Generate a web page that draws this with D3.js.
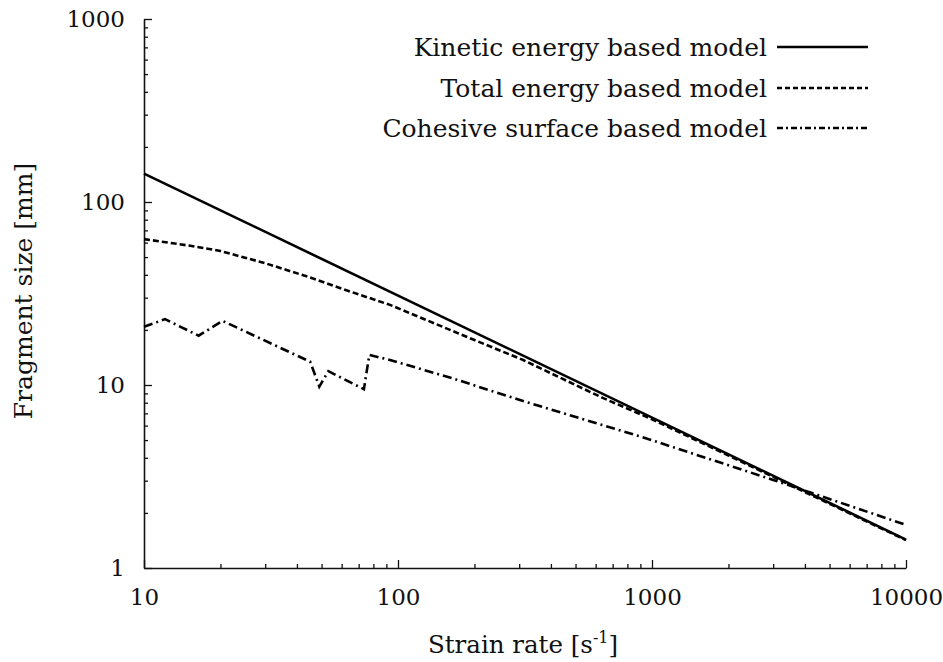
<!DOCTYPE html>
<html>
<head>
<meta charset="utf-8">
<script src="https://cdn.jsdelivr.net/npm/d3@7"></script>
<style>
  html, body { margin: 0; padding: 0; background: #fff; }
  svg text { font-family: "DejaVu Serif", "Liberation Serif", serif; fill: #111; }
</style>
</head>
<body>
<svg id="chart" width="943" height="662"></svg>
<script>
// ---- data ----
const kineticRate = [10, 10000];
const kineticSize = [143, 1.43];

const totalRate = [10, 15, 20, 30, 44, 60, 93, 200, 311, 500, 640, 1000, 2000, 4000, 10000];
const totalSize = [62.7, 57.8, 54, 46.3, 39.1, 33.6, 27.4, 17.6, 13.7, 10.0, 8.5, 6.5, 4.12, 2.6, 1.42];

const cohesiveRate = [10, 12.1, 16.4, 20.4, 45.1, 49, 53.2, 73.4, 77.1, 93, 163, 300, 600, 905, 3000, 10000];
const cohesiveSize = [20.8, 22.9, 18.6, 22.4, 13.4, 9.8, 11.9, 9.48, 14.6, 13.7, 10.9, 8.3, 6.2, 5.22, 3.03, 1.72];

const seriesNames = ["Kinetic energy based model", "Total energy based model", "Cohesive surface based model"];

const xTickValues = [10, 100, 1000, 10000];
const yTickValues = [1, 10, 100, 1000];

// ---- layout ----
const svg = d3.select("#chart");
const mLeft = 144, mRight = 906, mTop = 19, mBottom = 568;
const TICK_FS = 23, TEXT_FS = 25;

const x = d3.scaleLog().domain([10, 10000]).range([mLeft, mRight]);
const y = d3.scaleLog().domain([1, 1000]).range([mBottom, mTop]);

function minors(lo, hi) {
  const out = [];
  for (let d = lo; d < hi; d *= 10) for (let k = 2; k <= 9; k++) out.push(d * k);
  return out;
}

// minor ticks
svg.append("g").attr("transform", `translate(0,${mBottom})`)
  .call(d3.axisBottom(x).tickValues(minors(10, 10000)).tickSize(-4).tickFormat(""))
  .call(g => g.select(".domain").remove());
svg.append("g").attr("transform", `translate(${mLeft},0)`)
  .call(d3.axisLeft(y).tickValues(minors(1, 1000)).tickSize(-4).tickFormat(""))
  .call(g => g.select(".domain").remove());

// major axes
svg.append("g").attr("transform", `translate(0,${mBottom})`)
  .call(d3.axisBottom(x).tickValues(xTickValues).tickSize(-8).tickSizeOuter(0).tickPadding(21).tickFormat(d3.format("d")));
svg.append("g").attr("transform", `translate(${mLeft},0)`)
  .call(d3.axisLeft(y).tickValues(yTickValues).tickSize(-8).tickSizeOuter(0).tickPadding(19).tickFormat(d3.format("d")));

svg.selectAll(".tick line").attr("stroke", "#111").attr("stroke-width", 1.3);
svg.selectAll(".domain").attr("stroke", "#111").attr("stroke-width", 1.6);
svg.selectAll(".tick text").attr("font-size", TICK_FS).attr("font-family", "DejaVu Serif").attr("fill", "#111");

// axis titles
const xt = svg.append("text").attr("x", 523).attr("y", 653)
  .attr("text-anchor", "middle").attr("font-size", 24.5);
xt.append("tspan").text("Strain rate [s");
xt.append("tspan").attr("dy", -10).attr("font-size", 16).text("-1");
xt.append("tspan").attr("dy", 10).text("]");

svg.append("text")
  .attr("transform", `translate(32,291) rotate(-90)`)
  .attr("text-anchor", "middle").attr("font-size", TEXT_FS)
  .text("Fragment size [mm]");

// ---- lines ----
const line = d3.line().x(d => x(d[0])).y(d => y(d[1]));
const styles = [
  { dash: null },
  { dash: "6,3" },
  { dash: "9,4,2,4" }
];
const series = [
  d3.zip(kineticRate, kineticSize),
  d3.zip(totalRate, totalSize),
  d3.zip(cohesiveRate, cohesiveSize)
];

svg.append("g").selectAll("path").data(series).join("path")
  .attr("d", line)
  .attr("fill", "none")
  .attr("stroke", "#000")
  .attr("stroke-width", 2.6)
  .attr("stroke-dasharray", (d, i) => styles[i].dash);

// ---- legend ----
const legendY = [47, 88, 128];
const lg = svg.append("g");
seriesNames.forEach((name, i) => {
  lg.append("text").attr("x", 767).attr("y", legendY[i]).attr("dy", "0.35em")
    .attr("text-anchor", "end").attr("font-size", TEXT_FS).text(name);
  lg.append("line").attr("x1", 777).attr("x2", 868).attr("y1", legendY[i]).attr("y2", legendY[i])
    .attr("stroke", "#000").attr("stroke-width", 2.4)
    .attr("stroke-dasharray", i === 0 ? null : (i === 1 ? "5,3" : "6,3,2,3"));
});
</script>
</body>
</html>
